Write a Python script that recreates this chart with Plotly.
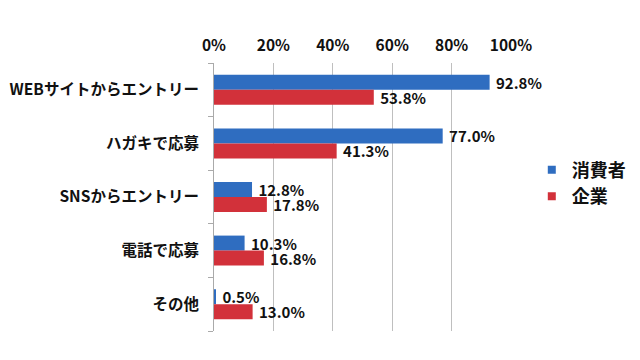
import plotly.graph_objects as go

categories = ["WEBサイトからエントリー", "ハガキで応募", "SNSからエントリー", "電話で応募", "その他"]
consumer = [92.8, 77.0, 12.8, 10.3, 0.5]
company = [53.8, 41.3, 17.8, 16.8, 13.0]
series_names = ["消費者", "企業"]
colors = ["#2F6DC0", "#D2313A"]
tick_vals = [0, 20, 40, 60, 80, 100]
tick_text = ["0%", "20%", "40%", "60%", "80%", "100%"]

FONT = "Noto Sans CJK JP"

fig = go.Figure()
for name, vals, col in zip(series_names, [consumer, company], colors):
    fig.add_trace(go.Bar(
        y=categories, x=vals, orientation="h", name=name,
        marker=dict(color=col, line=dict(width=0)),
        texttemplate="\u00a0<b>%{x:.1f}%</b>", textposition="outside",
        textfont=dict(size=15, color="#111111", family=FONT),
        constraintext="none", cliponaxis=False, showlegend=False,
    ))
# legend entries with small square markers
for i, (name, col) in enumerate(zip(series_names, colors)):
    fig.add_trace(go.Scatter(
        x=[None], y=[None], mode="markers", name=f"<b>{name}</b>",
        marker=dict(symbol="square", size=8, color=col),
        legendgroup=f"g{i}", showlegend=True,
    ))

fig.update_layout(
    width=640, height=360,
    margin=dict(l=206, r=137, t=55, b=37),
    paper_bgcolor="white", plot_bgcolor="white",
    barmode="group", bargap=0.44, bargroupgap=0,
    font=dict(family=FONT, size=15.5, color="#111111"),
    legend=dict(x=1.07, y=0.552, xanchor="left", yanchor="middle",
                traceorder="normal", tracegroupgap=10,
                font=dict(size=18, family=FONT), itemwidth=30),
    showlegend=True,
)
fig.update_xaxes(
    side="top", range=[0, 100], tickvals=tick_vals, ticktext=[f"<b>{t}</b>" for t in tick_text],
    showgrid=True, gridcolor="#BFBFBF", gridwidth=1, zeroline=False,
    showline=False, ticks="", tickfont=dict(size=15.5), automargin=False,
    ticklabelstandoff=8,
)
fig.update_yaxes(
    autorange="reversed", tickson="boundaries", ticks="outside", ticklen=5,
    tickcolor="#AAAAAA", showline=True, linecolor="#AAAAAA", linewidth=1,
    tickvals=categories, ticktext=[f"<b>{c}</b>" for c in categories],
    tickfont=dict(size=15.5), showgrid=False, automargin=False,
    ticklabelstandoff=11,
)

fig.write_html("out.html")
